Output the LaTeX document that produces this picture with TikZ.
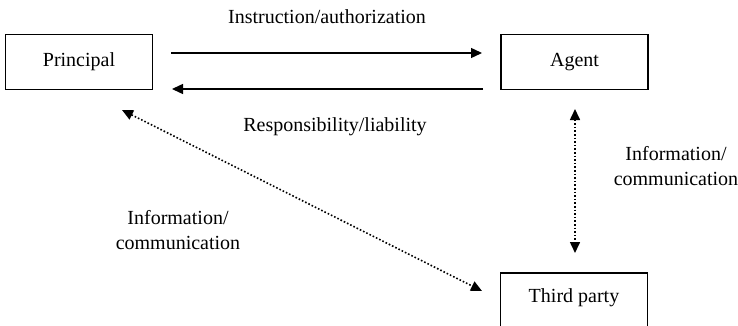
\documentclass[tikz,border=0pt]{standalone}
\usepackage{fontspec}
\setmainfont{Liberation Serif}
\usetikzlibrary{arrows.meta}
\begin{document}
\begin{tikzpicture}[x=1pt,y=-1pt,
  box/.style={draw,line width=1.3pt,minimum width=147pt,minimum height=55pt,inner sep=0pt,font=\fontsize{20}{24}\selectfont},
  lbl/.style={font=\fontsize{20}{24.5}\selectfont,align=center,inner sep=0pt},
  solidarrow/.style={line width=1.4pt,-{Triangle[length=11pt,width=10pt]}},
  dotarrow/.style={line width=1.6pt,dotted,{Triangle[length=11pt,width=10pt]}-{Triangle[length=11pt,width=10pt]}}]
\useasboundingbox (0,0) rectangle (738,326);
\node[box] (principal) at (79,62) {Principal};
\node[box] (agent) at (574.5,62) {Agent};
\begin{scope}
\clip (0,0) rectangle (738,326);
\node[box,minimum height=70pt] (third) at (574,308) {};
\end{scope}
\node[font=\fontsize{20}{24}\selectfont] (thirdlbl) at (574,298) {Third party};
\coordinate (a1) at (171,53);
\coordinate (a2) at (482,53);
\coordinate (b1) at (483,89);
\coordinate (b2) at (172,89);
\draw[solidarrow] (a1) -- (a2);
\draw[solidarrow] (b1) -- (b2);
\coordinate (v1) at (575,109);
\coordinate (v2) at (575,253);
\draw[dotarrow] (v1) -- (v2);
\coordinate (d1) at (122,110);
\coordinate (d2) at (482,291);
\draw[dotarrow] (d1) -- (d2);
\node[lbl] (l1) at (327,17) {Instruction/authorization};
\node[lbl] (l2) at (335,127) {Responsibility/liability};
\node[lbl] (l3) at (178,230) {Information/\\communication};
\node[lbl] (l4) at (676,166) {Information/\\communication};
\end{tikzpicture}
\end{document}
